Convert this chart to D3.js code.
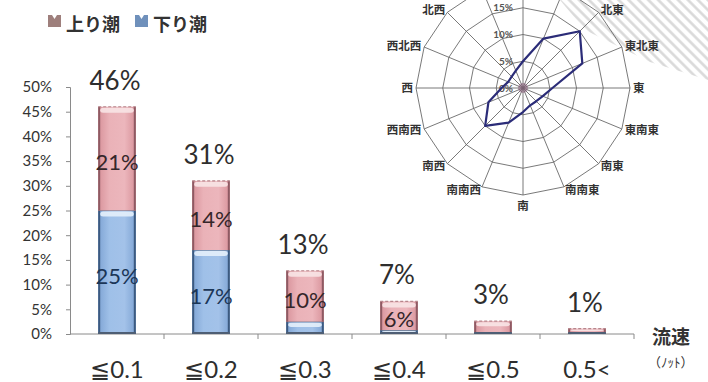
<!DOCTYPE html>
<html>
<head>
<meta charset="utf-8">
<script src="https://cdn.jsdelivr.net/npm/d3@7"></script>
<style>
  body { margin: 0; background: #fff; }
  svg { display: block; }
</style>
</head>
<body>
<div class="chartDiv"></div>
<script>
"use strict";

// Data:
var categories = ["≦0.1", "≦0.2", "≦0.3", "≦0.4", "≦0.5", "0.5<"];
var downValues = [25, 17, 2.5, 0.8, 0.3, 0.2];   // 下り潮 (%)
var upValues   = [21, 14, 10.3, 5.8, 2.3, 0.9];  // 上り潮 (%)
var totalLabels = ["46%", "31%", "13%", "7%", "3%", "1%"];
var yTicks = [0, 5, 10, 15, 20, 25, 30, 35, 40, 45, 50];

var directions = ["北", "北北東", "北東", "東北東", "東", "東南東", "南東", "南南東",
                  "南", "南南西", "南西", "西南西", "西", "西北西", "北西", "北北西"];
var dirValues = [5, 10, 15, 12, 5.5, 4, 3.5, 3.5, 4.5, 7, 10, 7, 4, 3, 3, 3.5];
var ringValues = [5, 10, 15, 20];
var ringLabels = [0, 5, 10, 15];

var width = 708, height = 382;
var numFont = "Lato, 'Open Sans', sans-serif";
var jpFont = "'Noto Sans CJK JP', sans-serif";

var svg = d3.select(".chartDiv").append("svg")
    .attr("width", width)
    .attr("height", height);

var defs = svg.append("defs");

var pinkGrad = defs.append("linearGradient").attr("id", "pinkGrad")
    .attr("x1", 0).attr("x2", 1).attr("y1", 0).attr("y2", 0);
pinkGrad.append("stop").attr("offset", "0%").attr("stop-color", "#d8939b");
pinkGrad.append("stop").attr("offset", "30%").attr("stop-color", "#eab2b8");
pinkGrad.append("stop").attr("offset", "70%").attr("stop-color", "#ecb6bc");
pinkGrad.append("stop").attr("offset", "100%").attr("stop-color", "#d8939b");

var blueGrad = defs.append("linearGradient").attr("id", "blueGrad")
    .attr("x1", 0).attr("x2", 1).attr("y1", 0).attr("y2", 0);
blueGrad.append("stop").attr("offset", "0%").attr("stop-color", "#7fa4d4");
blueGrad.append("stop").attr("offset", "30%").attr("stop-color", "#9fc0e8");
blueGrad.append("stop").attr("offset", "70%").attr("stop-color", "#a3c2e9");
blueGrad.append("stop").attr("offset", "100%").attr("stop-color", "#7fa4d4");

var hatch = defs.append("pattern").attr("id", "hatch")
    .attr("width", 7).attr("height", 7)
    .attr("patternUnits", "userSpaceOnUse")
    .attr("patternTransform", "rotate(-45)");
hatch.append("line").attr("x1", 3.5).attr("y1", 0).attr("x2", 3.5).attr("y2", 7)
    .attr("stroke", "#b0b0b0").attr("stroke-width", 2.5);

//
/* Bar chart: */
//
var x = d3.scaleBand().domain(categories).range([70, 634])
    .paddingInner(0.6).paddingOuter(0.3);
var y = d3.scaleLinear().domain([0, 50]).range([334, 87]);
var bw = x.bandwidth();

// y axis
var yAxis = svg.append("g")
    .attr("transform", "translate(70,0)")
    .call(d3.axisLeft(y).tickValues(yTicks).tickSize(4).tickPadding(14)
        .tickFormat(function(d) { return d + "%"; }));
yAxis.select(".domain").attr("stroke", "#8a8a8a");
yAxis.selectAll(".tick line").attr("stroke", "#8a8a8a");
yAxis.selectAll("text").attr("font-family", numFont).attr("font-size", 15)
    .attr("fill", "#333");

// x axis
var bounds = d3.range(categories.length + 1).map(function(i) { return 70 + i * x.step(); });
svg.append("line").attr("x1", 70).attr("x2", 634).attr("y1", y(0)).attr("y2", y(0))
    .attr("stroke", "#8a8a8a");
svg.selectAll(".xtick").data(bounds.slice(1)).enter().append("line")
    .attr("x1", function(d) { return d; }).attr("x2", function(d) { return d; })
    .attr("y1", y(0)).attr("y2", y(0) + 5).attr("stroke", "#8a8a8a");

svg.selectAll(".xlabel").data(categories).enter().append("text")
    .attr("x", function(d) { return x(d) + bw / 2; })
    .attr("y", 378)
    .attr("text-anchor", "middle")
    .attr("font-family", numFont).attr("font-size", 24).attr("fill", "#2e2e2e")
    .text(function(d) { return d; });

// stacked segments
var segs = [];
categories.forEach(function(c, i) {
    segs.push({ cat: c, y0: 0, y1: downValues[i], v: downValues[i], type: "down" });
    segs.push({ cat: c, y0: downValues[i], y1: downValues[i] + upValues[i], v: upValues[i], type: "up" });
});

var segG = svg.selectAll(".seg").data(segs).enter().append("g");
segG.append("rect")
    .attr("x", function(d) { return x(d.cat); })
    .attr("y", function(d) { return y(d.y1); })
    .attr("width", bw)
    .attr("height", function(d) { return y(d.y0) - y(d.y1); })
    .attr("fill", function(d) { return d.type == "up" ? "url(#pinkGrad)" : "url(#blueGrad)"; });
// dark side edges
segG.append("path")
    .attr("d", function(d) {
        var x0 = x(d.cat), t = y(d.y1), b = y(d.y0);
        return "M" + (x0 + 1) + "," + t + "V" + b + "M" + (x0 + bw - 1) + "," + t + "V" + b;
    })
    .attr("stroke", function(d) { return d.type == "up" ? "#8e5a63" : "#3c5a80"; })
    .attr("stroke-width", 2).attr("fill", "none");
// glossy cap
segG.append("rect")
    .attr("x", function(d) { return x(d.cat) + 2; })
    .attr("y", function(d) { return y(d.y1) + 1; })
    .attr("width", bw - 4)
    .attr("height", function(d) { return Math.min(5, (y(d.y0) - y(d.y1)) * 0.35); })
    .attr("rx", 3)
    .attr("fill", function(d) { return d.type == "up" ? "#f8e4e6" : "#e4f0fb"; })
    .attr("opacity", 0.9);
// top border
segG.append("line")
    .attr("x1", function(d) { return x(d.cat); })
    .attr("x2", function(d) { return x(d.cat) + bw; })
    .attr("y1", function(d) { return y(d.y1); })
    .attr("y2", function(d) { return y(d.y1); })
    .attr("stroke", function(d) { return d.type == "up" ? "#b7868c" : "#5f6f86"; })
    .attr("stroke-width", 1.2)
    .attr("stroke-dasharray", function(d) { return d.type == "up" ? "3,2" : null; });
svg.selectAll(".bbase").data(categories).enter().append("line")
    .attr("x1", function(d) { return x(d); })
    .attr("x2", function(d) { return x(d) + bw; })
    .attr("y1", y(0) - 1).attr("y2", y(0) - 1)
    .attr("stroke", "#4e5e74").attr("stroke-width", 2);

// segment labels
svg.selectAll(".slabel").data(segs.filter(function(d) { return d.v >= 5; })).enter().append("text")
    .attr("x", function(d) { return x(d.cat) + bw / 2; })
    .attr("y", function(d) { return (y(d.y0) + y(d.y1)) / 2 + 4; })
    .attr("dy", "0.35em")
    .attr("text-anchor", "middle")
    .attr("font-family", numFont).attr("font-size", 22)
    .attr("fill", function(d) { return d.type == "up" ? "#35262a" : "#1b3657"; })
    .text(function(d) { return Math.round(d.v) + "%"; });

// total labels
svg.selectAll(".tlabel").data(categories).enter().append("text")
    .attr("x", function(d) { return x(d) + bw / 2 - 2; })
    .attr("y", function(d, i) { return y(downValues[i] + upValues[i]) - 17; })
    .attr("text-anchor", "middle")
    .attr("font-family", numFont).attr("font-size", 26).attr("fill", "#2e2e2e")
    .text(function(d, i) { return totalLabels[i]; });

// axis title
svg.append("text").attr("x", 652).attr("y", 344)
    .attr("font-family", jpFont).attr("font-weight", "bold").attr("font-size", 19)
    .attr("fill", "#333").text("流速");
svg.append("text").attr("x", 648).attr("y", 367)
    .attr("font-family", jpFont).attr("font-size", 13)
    .attr("fill", "#333").text("（ﾉｯﾄ）");

// legend
var legendItems = [
    { label: "上り潮", color: "#9e7f7c", x: 48 },
    { label: "下り潮", color: "#6f90bb", x: 135 }
];
var lg = svg.selectAll(".legend").data(legendItems).enter().append("g")
    .attr("transform", function(d) { return "translate(" + d.x + ",15)"; });
lg.append("path")
    .attr("d", "M0,0 L4,0 L6.5,4 L9,0 L13,0 L13,12 L0,12 Z")
    .attr("fill", function(d) { return d.color; });
lg.append("text").attr("x", 18).attr("y", 16)
    .attr("font-family", jpFont).attr("font-weight", "bold").attr("font-size", 18)
    .attr("fill", "#333").text(function(d) { return d.label; });

//
/* Radar chart: */
//
var cx = 523, cy = 88;
var r = d3.scaleLinear().domain([0, 20]).range([0, 107]);
var angle = function(i) { return i * 2 * Math.PI / directions.length; };
var pt = function(i, v) { return [cx + Math.sin(angle(i)) * r(v), cy - Math.cos(angle(i)) * r(v)]; };

// scan hatch in the upper right
svg.append("path")
    .attr("d", "M560,0 L708,0 L708,80 L650,62 L585,30 Z")
    .attr("fill", "url(#hatch)").attr("opacity", 0.5);

var radar = svg.append("g");
var line = d3.line().curve(d3.curveLinearClosed);

radar.selectAll(".ring").data(ringValues).enter().append("path")
    .attr("d", function(v) { return line(directions.map(function(d, i) { return pt(i, v); })); })
    .attr("fill", "none").attr("stroke", "#6a6a6a").attr("stroke-width", 0.9);

radar.selectAll(".spoke").data(directions).enter().append("line")
    .attr("x1", cx).attr("y1", cy)
    .attr("x2", function(d, i) { return pt(i, 20)[0]; })
    .attr("y2", function(d, i) { return pt(i, 20)[1]; })
    .attr("stroke", "#6a6a6a").attr("stroke-width", 0.9);

// faint centre
radar.append("circle").attr("cx", cx).attr("cy", cy).attr("r", 5)
    .attr("fill", "#8a5a7a").attr("opacity", 0.5);

radar.selectAll(".rlabel").data(ringLabels).enter().append("text")
    .attr("x", cx - 10)
    .attr("y", function(v) { return cy - r(v) + 3.5; })
    .attr("text-anchor", "end")
    .attr("font-family", numFont).attr("font-weight", "bold").attr("font-size", 10)
    .attr("fill", "#555")
    .text(function(v) { return v + "%"; });

radar.append("path")
    .attr("d", line(dirValues.map(function(v, i) { return pt(i, v); })))
    .attr("fill", "none").attr("stroke", "#2b2c78").attr("stroke-width", 2.2)
    .attr("stroke-linejoin", "round");

// direction labels (the northern ones fall above the page, as in the original)
var dirLabels = directions.map(function(d, i) {
    var s = Math.sin(angle(i)), c = Math.cos(angle(i));
    var yy = cy - c * 110;
    if (Math.abs(s) < 0.1) yy -= c * 8;
    return { name: d, x: cx + s * 110, y: yy,
             anchor: s > 0.1 ? "start" : (s < -0.1 ? "end" : "middle") };
}).filter(function(d) { return d.y > 0; });

radar.selectAll(".dlabel").data(dirLabels).enter().append("text")
    .attr("x", function(d) { return d.x; })
    .attr("y", function(d) { return d.y; })
    .attr("dy", "0.35em")
    .attr("text-anchor", function(d) { return d.anchor; })
    .attr("font-family", jpFont).attr("font-weight", "bold").attr("font-size", 11.5)
    .attr("fill", "#333")
    .text(function(d) { return d.name; });
</script>
</body>
</html>
